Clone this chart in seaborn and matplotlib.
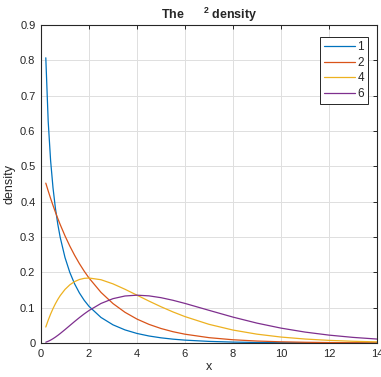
import matplotlib
matplotlib.use("Agg")
import matplotlib.pyplot as plt
import seaborn as sns
import pandas as pd

# Chi-square density values for several degrees of freedom
x = [0.2, 0.3, 0.4, 0.5, 0.6, 0.7, 0.8, 1.0, 1.2, 1.4, 1.6, 1.8, 2.0, 2.5, 3.0,
     3.5, 4.0, 4.5, 5.0, 5.5, 6.0, 7, 8, 9, 10, 11, 12, 13, 14]
df1 = [0.80717, 0.62691, 0.51644, 0.43939, 0.38155, 0.33601, 0.29898, 0.24197,
       0.19987, 0.16743, 0.14171, 0.12090, 0.10378, 0.07229, 0.05139, 0.03706,
       0.02700, 0.01982, 0.01465, 0.01087, 0.00811, 0.00455, 0.00258, 0.00148,
       0.00085, 0.00049, 0.00029, 0.00017, 0.00010]
df2 = [0.45242, 0.43035, 0.40937, 0.38940, 0.37041, 0.35234, 0.33516, 0.30327,
       0.27441, 0.24829, 0.22466, 0.20329, 0.18394, 0.14325, 0.11157, 0.08689,
       0.06767, 0.05270, 0.04104, 0.03196, 0.02489, 0.01510, 0.00916, 0.00555,
       0.00337, 0.00204, 0.00124, 0.00075, 0.00046]
df4 = [0.04524, 0.06455, 0.08187, 0.09735, 0.11112, 0.12332, 0.13406, 0.15163,
       0.16464, 0.17380, 0.17973, 0.18296, 0.18394, 0.17907, 0.16735, 0.15205,
       0.13534, 0.11857, 0.10261, 0.08790, 0.07468, 0.05284, 0.03663, 0.02500,
       0.01684, 0.01124, 0.00744, 0.00488, 0.00319]
df6 = [0.00226, 0.00484, 0.00819, 0.01217, 0.01667, 0.02158, 0.02681, 0.03791,
       0.04939, 0.06083, 0.07189, 0.08233, 0.09197, 0.11192, 0.12551, 0.13305,
       0.13534, 0.13340, 0.12826, 0.12086, 0.11202, 0.09248, 0.07326, 0.05624,
       0.04211, 0.03091, 0.02231, 0.01588, 0.01117]
labels = ["1", "2", "4", "6"]
series = [df1, df2, df4, df6]
x_ticks = [0, 2, 4, 6, 8, 10, 12, 14]
y_ticks = [0, 0.1, 0.2, 0.3, 0.4, 0.5, 0.6, 0.7, 0.8, 0.9]
y_tick_labels = ["0", "0.1", "0.2", "0.3", "0.4", "0.5", "0.6", "0.7", "0.8", "0.9"]

rows = []
for lab, ys in zip(labels, series):
    for xv, yv in zip(x, ys):
        rows.append({"x": xv, "density": yv, "dof": lab})
data = pd.DataFrame(rows)

sns.set_style("white")
plt.rcParams["font.family"] = ["Liberation Sans", "DejaVu Sans"]
plt.rcParams["mathtext.fontset"] = "custom"
plt.rcParams["mathtext.bf"] = "Liberation Sans:bold"
plt.rcParams["mathtext.rm"] = "Liberation Sans"

palette = ["#0072BD", "#D95319", "#EDB120", "#7E2F8E"]

fig = plt.figure(figsize=(3.81, 3.77), dpi=100)
ax = fig.add_axes([41 / 381, 34 / 377, 336 / 381, 318 / 377])

sns.lineplot(data=data, x="x", y="density", hue="dof", palette=palette,
             linewidth=0.9, ax=ax, legend=True)

ax.set_xlim(0, 14)
ax.set_ylim(0, 0.9)
ax.set_xticks(x_ticks)
ax.set_xticklabels([str(t) for t in x_ticks])
ax.set_yticks(y_ticks)
ax.set_yticklabels(y_tick_labels)
ax.grid(True, color="#dfdfdf", linewidth=0.7)
ax.set_axisbelow(True)
for s in ax.spines.values():
    s.set_color("#262626")
    s.set_linewidth(0.8)
ax.tick_params(direction="in", length=3, width=0.7, colors="#262626",
               labelsize=8, top=True, right=True, pad=4)
ax.set_xlabel("x", fontsize=9, color="#262626", labelpad=2)
ax.set_ylabel("density", fontsize=9, color="#262626", labelpad=3)
ax.set_title(r"The $\ \ \ \ ^{\mathbf{2}}$ density", fontsize=9,
             fontweight="bold", pad=4)

handles, _ = ax.get_legend_handles_labels()
leg = ax.legend(handles, labels, loc="upper right",
                bbox_to_anchor=(1 - 9 / 336, 1 - 12 / 318), borderaxespad=0,
                fontsize=8.5, frameon=True, fancybox=False, framealpha=1,
                edgecolor="#262626", handlelength=2.6, handletextpad=0.2,
                borderpad=0.35, labelspacing=0.3, markerfirst=True)
leg.get_frame().set_linewidth(0.7)

fig.savefig("out.png", dpi=100)
